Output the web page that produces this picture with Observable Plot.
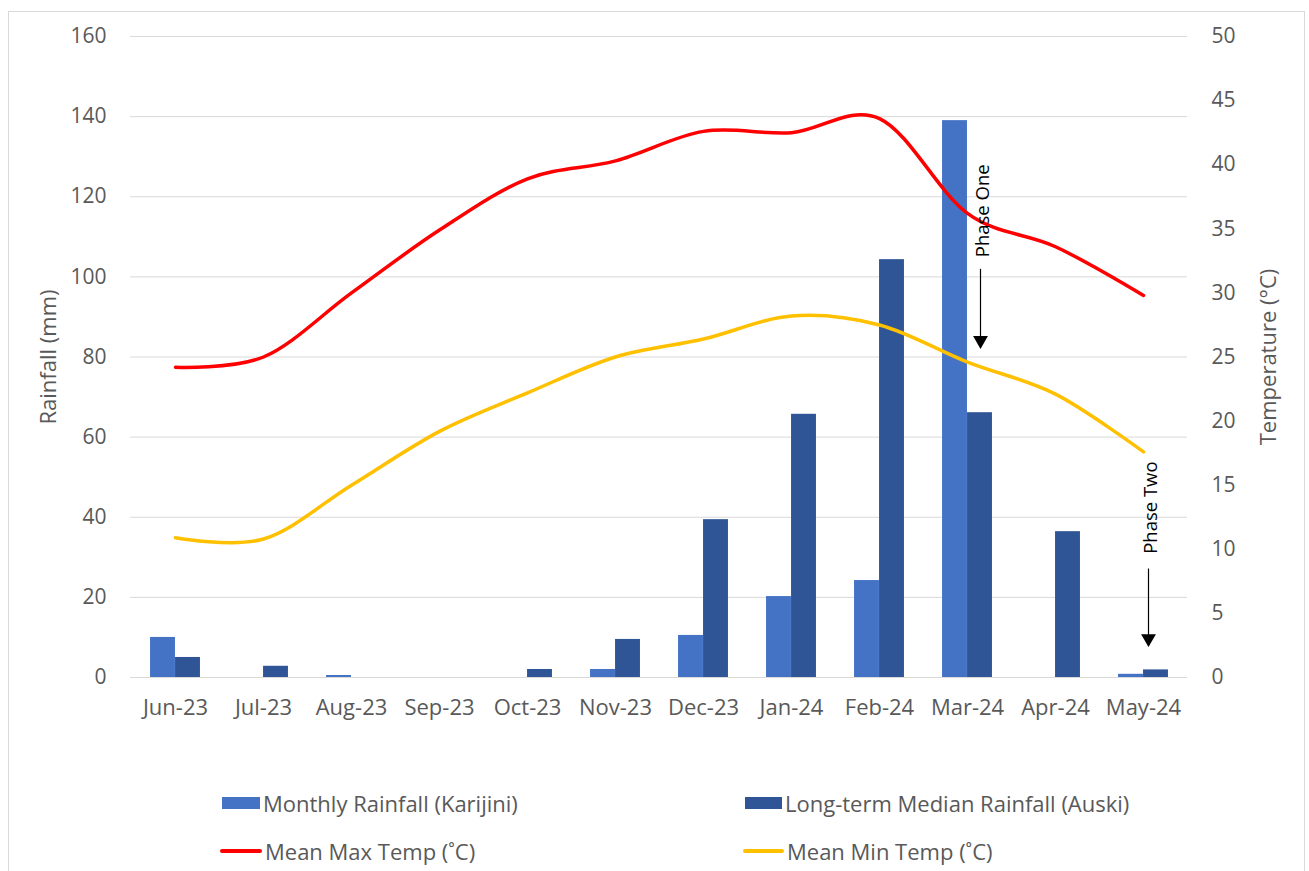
<!DOCTYPE html>
<html><head><meta charset="utf-8">
<script src="https://cdn.jsdelivr.net/npm/d3@7"></script>
<script src="https://cdn.jsdelivr.net/npm/@observablehq/plot@0.6"></script>
<style>
body{margin:0;background:#fff;font-family:"Open Sans",sans-serif;}
#wrap{position:relative;width:1309px;height:871px;overflow:hidden;background:#fff;}
#frame{position:absolute;left:8px;top:11px;width:1297px;height:880px;border:1px solid #d9d9d9;box-sizing:border-box;}
#chart{position:absolute;left:0;top:0;}
.leg{position:absolute;display:flex;align-items:center;height:28px;font-size:22px;color:#595959;white-space:nowrap;}
.sw{display:inline-block;margin-right:3px;}
</style></head>
<body>
<div id="wrap">
  <div id="frame"></div>
  <div id="chart"></div>
  <div class="leg" style="left:222px;top:789px"><span class="sw" style="width:38px;height:12px;background:#4472C4"></span>Monthly Rainfall (Karijini)</div>
  <div class="leg" style="left:745px;top:789px"><span class="sw" style="width:37px;height:12px;background:#2F5597"></span>Long-term Median Rainfall (Auski)</div>
  <div class="leg" style="left:220px;top:837px"><span class="sw" style="width:42px;height:4px;background:#FF0000;border-radius:2px"></span>Mean Max Temp (˚C)</div>
  <div class="leg" style="left:743px;top:837px"><span class="sw" style="width:41px;height:4px;background:#FFC000;border-radius:2px"></span>Mean Min Temp (˚C)</div>
</div>
<script>
const months = ["Jun-23","Jul-23","Aug-23","Sep-23","Oct-23","Nov-23","Dec-23","Jan-24","Feb-24","Mar-24","Apr-24","May-24"];
const rainKarijini = [10.0, 0, 0.5, 0, 0, 2.0, 10.5, 20.2, 24.2, 139.0, 0, 0.8];
const rainAuski = [5.0, 2.8, 0, 0, 2.0, 9.5, 39.4, 65.7, 104.3, 66.1, 36.4, 1.9];
const maxTemp = [24.2, 25.0, 30.0, 34.9, 38.9, 40.3, 42.6, 42.5, 43.6, 36.2, 33.6, 29.8];
const minTemp = [10.9, 10.8, 15.0, 19.2, 22.2, 25.0, 26.4, 28.2, 27.5, 24.6, 22.1, 17.6];
const rainTicks = [0, 20, 40, 60, 80, 100, 120, 140, 160];
const tempTicks = [0, 5, 10, 15, 20, 25, 30, 35, 40, 45, 50];
const axisTitles = ["Rainfall (mm)", "Temperature (°C)"];
const phaseLabels = ["Phase One", "Phase Two"];
const phaseMonths = ["Mar-24", "May-24"];
const phaseLabelY = [116.5, 42.4];
const phaseArrowFrom = [102, 27.2];
const phaseArrowTo = [82.4, 8.0];

const W = 1309, H = 730, ML = 130, MR = 122;
const tMax = 50, rMax = 160, k = rMax / tMax;
const rows = months.map((m, i) => ({month: m, karijini: rainKarijini[i], auski: rainAuski[i], tmax: maxTemp[i], tmin: minTemp[i]}));
const annots = phaseLabels.map((l, i) => ({label: l, month: phaseMonths[i], ly: phaseLabelY[i], a1: phaseArrowFrom[i], a2: phaseArrowTo[i]}));
const bw = (W - ML - MR) / months.length;
const barW = 25;

const chart = Plot.plot({
  width: W, height: H,
  marginLeft: ML, marginRight: MR, marginTop: 36, marginBottom: H - 677,
  style: {fontFamily: '"Open Sans", sans-serif', fontSize: "21px", color: "#595959", background: "transparent", overflow: "visible"},
  x: {domain: months, padding: 0, label: null},
  y: {domain: [0, rMax], label: null},
  marks: [
    Plot.gridY(rainTicks, {stroke: "#d9d9d9", strokeOpacity: 1, strokeWidth: 1}),
    Plot.barY(rows, {x: "month", y: "karijini", fill: "#4472C4", insetLeft: bw / 2 - barW, insetRight: bw / 2}),
    Plot.barY(rows, {x: "month", y: "auski", fill: "#2F5597", insetLeft: bw / 2, insetRight: bw / 2 - barW}),
    Plot.line(rows, {x: "month", y: d => d.tmax * k, stroke: "#FF0000", strokeWidth: 3.5, curve: "cardinal"}),
    Plot.line(rows, {x: "month", y: d => d.tmin * k, stroke: "#FFC000", strokeWidth: 3.5, curve: "cardinal"}),
    Plot.text(annots.slice(0,1), {x: "month", y: "ly", text: "label", rotate: -90, dx: 16, fill: "#000", fontSize: 18.5, lineAnchor: "middle"}),
    Plot.text(annots.slice(1), {x: "month", y: "ly", text: "label", rotate: -90, dx: 8, fill: "#000", fontSize: 18.5, lineAnchor: "middle"}),
    Plot.link(annots.slice(0,1), {x1: "month", x2: "month", y1: "a1", y2: "a2", stroke: "#000", strokeWidth: 1.2, dx: 13}),
    Plot.link(annots.slice(1), {x1: "month", x2: "month", y1: "a1", y2: "a2", stroke: "#000", strokeWidth: 1.2, dx: 5}),
    Plot.dot(annots.slice(0,1), {x: "month", y: "a2", symbol: "triangle", rotate: 180, r: 5.5, fill: "#000", stroke: "none", dx: 13, dy: -7}),
    Plot.dot(annots.slice(1), {x: "month", y: "a2", symbol: "triangle", rotate: 180, r: 5.5, fill: "#000", stroke: "none", dx: 5, dy: -7}),
    Plot.axisX({tickSize: 0, tickPadding: 22, label: null, fontSize: 22}),
    Plot.axisY(rainTicks, {anchor: "left", tickSize: 0, tickPadding: 24, fontSize: 21, label: null}),
    Plot.axisY(tempTicks.map(t => t * k), {anchor: "right", tickSize: 0, tickPadding: 24, fontSize: 21, tickFormat: d => Math.round(d / k), label: null}),
    Plot.text(axisTitles.slice(0,1), {text: d => d, frameAnchor: "left", textAnchor: "middle", rotate: -90, dx: -82, fontSize: 22, fill: "#595959", lineAnchor: "middle"}),
    Plot.text(axisTitles.slice(1), {text: d => d, frameAnchor: "right", textAnchor: "middle", rotate: -90, dx: 81, fontSize: 22, fill: "#595959", lineAnchor: "middle"})
  ]
});
document.getElementById("chart").appendChild(chart);
</script>
</body></html>
